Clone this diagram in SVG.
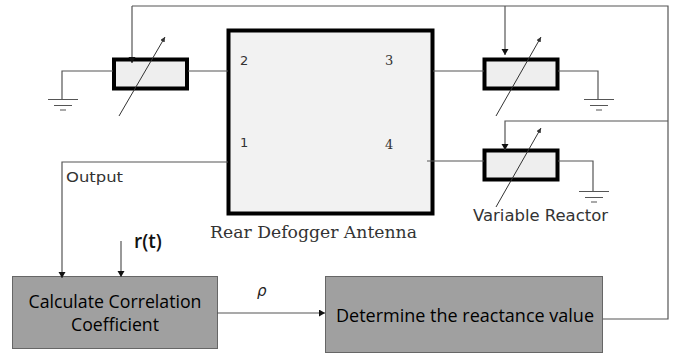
<svg xmlns="http://www.w3.org/2000/svg" width="675" height="353" viewBox="0 0 675 353">
<style>
.w{fill:none;stroke:#555;stroke-width:1.2}
.r{fill:#eee;stroke:#000;stroke-width:4}
.a{fill:none;stroke:#333;stroke-width:1;marker-end:url(#sm)}
.b{fill:#a0a0a0;stroke:#666;stroke-width:1}
.t{font-family:"DejaVu Sans",sans-serif;fill:#333}
.s{font-family:"DejaVu Serif",serif;fill:#333}
.o{font-family:"Open Sans","Noto Sans",sans-serif;fill:#000;font-size:18px}
</style>
<defs>
<marker id="ah" markerUnits="userSpaceOnUse" markerWidth="8" markerHeight="8" refX="6" refY="3.5" orient="auto"><path d="M0 0L6 3.500L0 7Z" fill="#111"/></marker>
<marker id="sm" markerUnits="userSpaceOnUse" markerWidth="7" markerHeight="6" refX="5" refY="2.500" orient="auto"><path d="M0 0L5 2.500L0 5Z" fill="#333"/></marker>
</defs>
<rect width="675" height="353" fill="#fff"/>
<g id="antenna">
<rect x="228.500" y="30.500" width="204" height="183" fill="#f2f2f2" stroke="#000" stroke-width="4"/>
<text class="t" x="240" y="65" font-size="13">2</text>
<text class="t" x="240" y="147" font-size="13">1</text>
<text class="s" x="385" y="65" font-size="13">3</text>
<text class="s" x="385" y="149" font-size="13">4</text>
<text class="s" x="210" y="238" font-size="16.500" textLength="207" lengthAdjust="spacingAndGlyphs">Rear Defogger Antenna</text>
</g>
<g id="reactor-left">
<rect class="r" x="114" y="59.500" width="73" height="29"/>
<path class="a" d="M119 116L165 37"/>
</g>
<g id="reactor-top-right">
<rect class="r" x="484.500" y="59.500" width="73" height="29"/>
<path class="a" d="M496 116L541 37"/>
</g>
<g id="reactor-bottom-right">
<rect class="r" x="484.500" y="150.500" width="73" height="29"/>
<path class="a" d="M496 207L541 128"/>
<text class="t" x="473" y="221" font-size="16" textLength="135" lengthAdjust="spacingAndGlyphs">Variable Reactor</text>
</g>
<g id="ground-left"><path class="w" d="M48 99.500H78M54 105.500H72M60 110H66"/></g>
<g id="ground-top-right"><path class="w" d="M584 99.500H614M590 105.500H608M596 110H602"/></g>
<g id="ground-bottom-right"><path class="w" d="M579 191.500H609M585 197.500H603M591 202H597"/></g>
<g id="output-label"><text class="t" x="66" y="182" font-size="14.500" textLength="57" lengthAdjust="spacingAndGlyphs">Output</text></g>
<g id="rt-label"><text x="134" y="248" font-family="Open Sans,Noto Sans,sans-serif" font-weight="600" font-size="19" fill="#111">r(t)</text></g>
<g id="rho-label"><text x="257" y="296" font-family="DejaVu Sans,sans-serif" font-style="italic" font-size="15" fill="#222">ρ</text></g>
<g id="calc">
<rect class="b" x="12.500" y="276.500" width="205" height="72"/>
<text class="o" x="115" y="308" text-anchor="middle" textLength="173" lengthAdjust="spacingAndGlyphs">Calculate Correlation</text>
<text class="o" x="115" y="331" text-anchor="middle" textLength="88" lengthAdjust="spacingAndGlyphs">Coefficient</text>
</g>
<g id="determine">
<rect class="b" x="325.500" y="276.500" width="277" height="76"/>
<text class="o" x="336" y="322" textLength="258" lengthAdjust="spacingAndGlyphs">Determine the reactance value</text>
</g>
<g id="connectors">
<path class="w" d="M132 6H668V319H603"/>
<path class="w" d="M132 6V63" marker-end="url(#ah)"/>
<path class="w" d="M505 6V55" marker-end="url(#ah)"/>
<path class="w" d="M668 121H505V150" marker-end="url(#ah)"/>
<path class="w" d="M113 71H62V99"/>
<path class="w" d="M188 71H228"/>
<path class="w" d="M433 71H484"/>
<path class="w" d="M558 71H598V99"/>
<path class="w" d="M427 161H484"/>
<path class="w" d="M558 161H593V191"/>
<path class="w" d="M228 162H62V278" marker-end="url(#ah)"/>
<path class="w" d="M121 241V277" marker-end="url(#ah)"/>
<path class="w" d="M217 313H325" marker-end="url(#ah)"/>
</g>
</svg>
